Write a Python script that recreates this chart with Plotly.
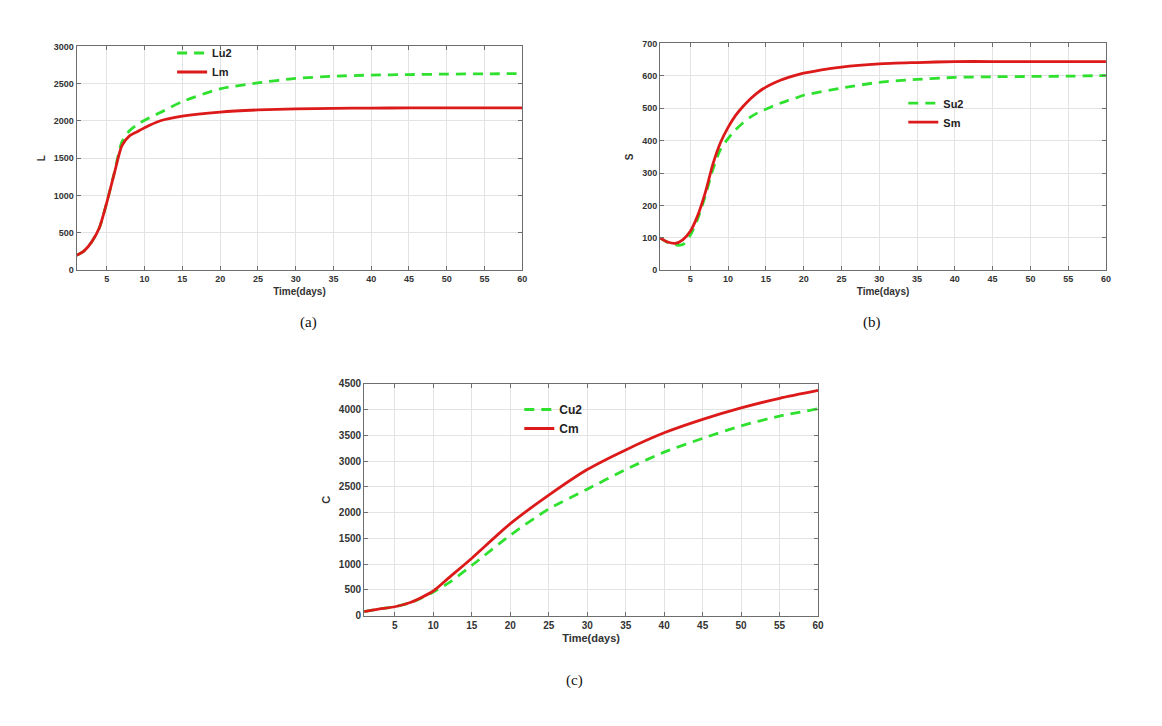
import plotly.graph_objects as go

# ---- data ----
t_L = [1, 2, 3, 4, 5, 6, 7, 8, 9, 10, 12, 15, 20, 25, 30, 35, 40, 45, 50, 55, 60]
Lu2 = [200, 260, 380, 565, 910, 1310, 1720, 1870, 1950, 2010, 2110, 2260, 2430, 2510, 2570, 2600, 2615, 2622, 2628, 2632, 2635]
Lm = [200, 260, 380, 565, 910, 1300, 1670, 1800, 1855, 1910, 2000, 2065, 2120, 2148, 2162, 2170, 2173, 2175, 2176, 2176, 2176]

t_S = [1, 2, 3, 4, 5, 6, 7, 8, 9, 10, 11, 12, 13, 14, 15, 16, 17, 18, 19, 20, 25, 30, 35, 40, 45, 50, 55, 60]
Su2 = [100, 86, 78, 79, 108, 160, 231, 312, 373, 406, 434, 455, 473, 487, 497, 507, 516, 524, 532, 540, 562, 580, 589, 595, 597, 598, 599, 601]
Sm = [100, 87, 83, 94, 120, 170, 241, 328, 394, 441, 478, 506, 530, 550, 565, 577, 587, 595, 602, 608, 627, 637, 641, 644, 644, 644, 644, 644]

t_C = [1, 3, 5, 7, 8, 10, 12, 15, 20, 25, 30, 35, 40, 45, 50, 55, 60]
Cu2 = [76, 130, 172, 250, 310, 460, 637, 975, 1561, 2071, 2454, 2836, 3174, 3442, 3684, 3875, 4015]
Cm = [76, 130, 172, 255, 319, 478, 733, 1115, 1785, 2339, 2836, 3218, 3550, 3811, 4034, 4219, 4372]

x_ticks = [5, 10, 15, 20, 25, 30, 35, 40, 45, 50, 55, 60]

GREEN = "#2fe02f"
RED = "#dc1a1a"
W, H = 1162, 726


def px_x(p):
    return p / W


def px_y(p):
    return 1 - p / H


fig = go.Figure()

panels = [
    dict(t=t_L, a=Lu2, b=Lm, na="Lu2", nb="Lm", yl="L", yr=[0, 3000], dt=500, xa="x", ya="y", lg="legend",
         dx=[px_x(77), px_x(525)], dy=[px_y(269.3), px_y(42)], fs=9, leg=(173, 34)),
    dict(t=t_S, a=Su2, b=Sm, na="Su2", nb="Sm", yl="S", yr=[0, 700], dt=100, xa="x2", ya="y2", lg="legend2",
         dx=[px_x(663.5), px_x(1111.7)], dy=[px_y(269.3), px_y(39)], fs=9, leg=(908, 85)),
    dict(t=t_C, a=Cu2, b=Cm, na="Cu2", nb="Cm", yl="C", yr=[0, 4500], dt=500, xa="x3", ya="y3", lg="legend3",
         dx=[px_x(366), px_x(822.3)], dy=[px_y(620), px_y(384.7)], fs=10, leg=(522, 396)),
]

for i, p in enumerate(panels):
    fig.add_trace(go.Scatter(x=p["t"], y=p["a"], name=p["na"], mode="lines",
                             line=dict(color=GREEN, width=2.8, dash="10px,7px", shape="spline", smoothing=0.7),
                             xaxis=p["xa"], yaxis=p["ya"], legend=p["lg"]))
    fig.add_trace(go.Scatter(x=p["t"], y=p["b"], name=p["nb"], mode="lines",
                             line=dict(color=RED, width=2.8, shape="spline", smoothing=0.7),
                             xaxis=p["xa"], yaxis=p["ya"], legend=p["lg"]))
    sfx = "" if i == 0 else str(i + 1)
    axis_common = dict(showline=True, linecolor="#6e6e6e", linewidth=1, mirror="ticks",
                       ticks="inside", ticklen=4, tickcolor="#6e6e6e",
                       showgrid=True, gridcolor="#e3e3e3", gridwidth=1, zeroline=False,
                       tickfont=dict(family="Liberation Sans, Arial", size=p["fs"], color="#333333", weight="bold"))
    fig.update_layout(**{
        "xaxis" + sfx: dict(domain=p["dx"], range=[1, 60], tickvals=x_ticks, anchor=p["ya"],
                            title=dict(text="Time(days)", standoff=4,
                                       font=dict(family="Liberation Sans, Arial", size=p["fs"] + 1, color="#333333", weight="bold")),
                            **axis_common),
        "yaxis" + sfx: dict(domain=p["dy"], range=p["yr"], dtick=p["dt"], anchor=p["xa"],
                            title=dict(text=p["yl"], standoff=6,
                                       font=dict(family="Liberation Sans, Arial", size=p["fs"] + 1, color="#333333", weight="bold")),
                            **axis_common),
        p["lg"]: dict(x=px_x(p["leg"][0]), y=px_y(p["leg"][1]), xanchor="left", yanchor="top",
                      bgcolor="rgba(0,0,0,0)", borderwidth=0, tracegroupgap=0,
                      font=dict(family="Liberation Sans, Arial", size=p["fs"] + 2, color="#222222", weight="bold")),
    })

labels = [("(a)", 310, 322), ("(b)", 877, 322), ("(c)", 577, 686)]
for txt, lx, ly in labels:
    fig.add_annotation(text=txt, x=px_x(lx), y=px_y(ly), xref="paper", yref="paper",
                       showarrow=False, xanchor="center", yanchor="middle",
                       font=dict(family="Liberation Serif, Times New Roman", size=15, color="#111111"))

fig.update_layout(width=W, height=H, margin=dict(l=0, r=0, t=0, b=0),
                  paper_bgcolor="white", plot_bgcolor="white", showlegend=True)

fig.write_html("out.html")
